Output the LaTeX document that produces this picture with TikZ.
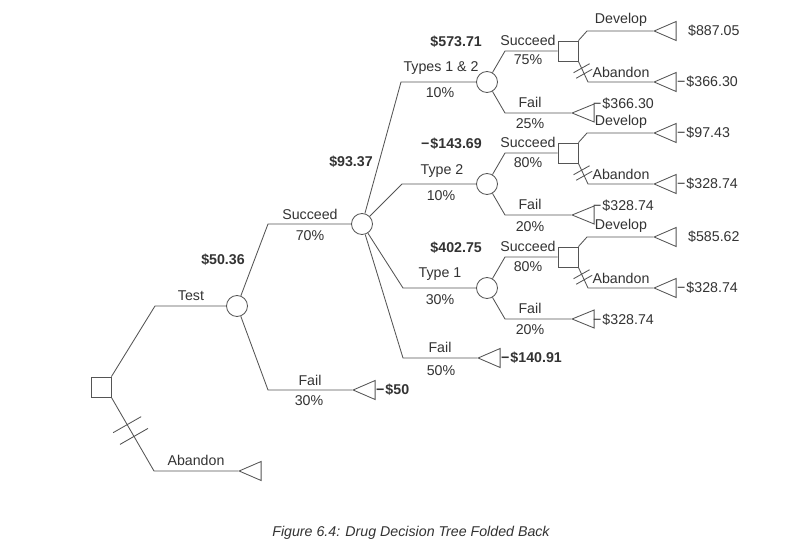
\documentclass[tikz,border=0pt]{standalone}
\usepackage{fontspec}
\setmainfont{Liberation Sans}
\usetikzlibrary{shapes.geometric,calc}
\definecolor{ln}{HTML}{555555}
\definecolor{tx}{HTML}{333333}
\begin{document}
\begin{tikzpicture}[x=1pt,y=-1pt,
  every node/.style={font=\fontsize{14.2}{16}\selectfont, text=tx},
  conn/.style={draw=ln, line width=0.85pt},
  chance/.style={circle, draw=ln, line width=0.85pt, minimum size=21pt, inner sep=0pt},
  decision/.style={rectangle, draw=ln, line width=0.85pt, minimum size=20pt, inner sep=0pt},
  terminal/.style={isosceles triangle, shape border rotate=180, isosceles triangle stretches,
    minimum width=19pt, minimum height=22pt, inner sep=0pt, draw=ln, line width=0.85pt, anchor=apex},
  lbl/.style={inner sep=0pt},
  val/.style={inner sep=0pt, font=\fontsize{14.2}{16}\selectfont\bfseries},
  pay/.style={inner sep=0pt, anchor=west},
  hash/.style={draw=ln, line width=0.85pt},
  captxt/.style={inner sep=0pt, font=\fontsize{14.2}{16}\selectfont\itshape, text=tx}
]
\fill[white] (0,0) rectangle (788,551);
\useasboundingbox (0,0) rectangle (788,551);

% root decision
\node[decision] (root) at (101,387) {};
\coordinate (kt) at (155,306);
\node[chance] (ct) at (237,306) {};
\draw[conn] (root.north east) -- (kt) -- (ct);
\coordinate (ka) at (154,471);
\node[terminal] (ta) at (238,471) {};
\draw[conn] (root.south east) -- (ka) -- (ta.apex);
\path (root.south east) -- (ka) coordinate[pos=0.37] (rh1) coordinate[pos=0.53] (rh2);
\draw[hash] ($(rh1)+(-14,8)$) -- ($(rh1)+(14,-8)$);
\draw[hash] ($(rh2)+(-14,8)$) -- ($(rh2)+(14,-8)$);

% test chance
\coordinate (ks) at (268,224);
\node[chance] (c70) at (362,224) {};
\draw[conn] (ct) -- (ks) -- (c70);
\coordinate (kf) at (268,390);
\node[terminal] (tf) at (352,390) {};
\draw[conn] (ct) -- (kf) -- (tf.apex);

% branches from c70
\coordinate (kba) at (401,82);
\node[chance] (ca) at (487,82) {};
\draw[conn] (c70) -- (kba) -- (ca);
\coordinate (kbb) at (402,184);
\node[chance] (cb) at (487,184) {};
\draw[conn] (c70) -- (kbb) -- (cb);
\coordinate (kbc) at (403,288);
\node[chance] (cc) at (487,288) {};
\draw[conn] (c70) -- (kbc) -- (cc);
\coordinate (kbF) at (403,358);
\node[terminal] (tF) at (477,358) {};
\draw[conn] (c70) -- (kbF) -- (tF.apex);

% subtrees
\foreach \n/\Y in {a/82,b/184,c/288}{
  \coordinate (ks\n) at (505,\Y-31);
  \node[decision] (s\n) at (568,\Y-31) {};
  \draw[conn] (c\n) -- (ks\n) -- (s\n);
  \coordinate (kf\n) at (505,\Y+31);
  \node[terminal, minimum width=18pt] (tf\n) at (571,\Y+31) {};
  \draw[conn] (c\n) -- (kf\n) -- (tf\n.apex);
  \coordinate (kd\n) at (587,\Y-51);
  \node[terminal] (td\n) at (653,\Y-51) {};
  \draw[conn] (s\n.north east) -- (kd\n) -- (td\n.apex);
  \coordinate (kb\n) at (588,\Y);
  \node[terminal] (tb\n) at (653,\Y) {};
  \draw[conn] (s\n.south east) -- (kb\n) -- (tb\n.apex);
  \path (s\n.south east) -- (kb\n) coordinate[pos=0.33] (ha\n) coordinate[pos=0.6] (hb\n);
  \draw[hash] ($(ha\n)+(-8,4.5)$) -- ($(ha\n)+(8,-4.5)$);
  \draw[hash] ($(hb\n)+(-8,4.5)$) -- ($(hb\n)+(8,-4.5)$);
  \node[lbl] at (528,\Y-42) {Succeed};
  \node[lbl] at (621,\Y-62) {Develop};
  \node[lbl] at (621,\Y-10) {Abandon};
  \node[lbl] at (530,\Y+20) {Fail};
  \node[pay] at (677,\Y) {−\kern1pt\$\ifnum\Y=82 366.30\else 328.74\fi};
}

% left labels
\node[lbl] at (191,296) {Test};
\node[val] at (223,260) {\$50.36};
\node[lbl] at (310,214) {Succeed};
\node[lbl] at (310,236) {70\%};
\node[lbl] at (310,380) {Fail};
\node[lbl] at (309,401) {30\%};
\node[lbl] at (196,460) {Abandon};
\node[val, anchor=west] at (376,390) {−\kern1pt\$50};
\node[val] at (351,162) {\$93.37};

% middle labels
\node[val, anchor=east] at (482,42) {\$573.71};
\node[lbl] at (441,68) {Types 1 \& 2};
\node[lbl] at (440,93) {10\%};
\node[val, anchor=east] at (482,144) {−\kern1pt\$143.69};
\node[lbl] at (442,171) {Type 2};
\node[lbl] at (441,196) {10\%};
\node[val, anchor=east] at (482,248) {\$402.75};
\node[lbl] at (440,274) {Type 1};
\node[lbl] at (440,300) {30\%};
\node[lbl] at (440,347) {Fail};
\node[lbl] at (441,371) {50\%};
\node[val, anchor=west] at (501,358) {−\kern1pt\$140.91};

% subtree percentages
\node[lbl] at (528,60) {75\%};
\node[lbl] at (530,124) {25\%};
\node[lbl] at (528,163) {80\%};
\node[lbl] at (530,227) {20\%};
\node[lbl] at (528,267) {80\%};
\node[lbl] at (530,330) {20\%};

% payoffs
\node[pay] at (688,31) {\$887.05};
\node[pay] at (677,133) {−\kern1pt\$97.43};
\node[pay] at (688,237) {\$585.62};
\node[pay] at (593,104) {−\kern1pt\$366.30};
\node[pay] at (593,206) {−\kern1pt\$328.74};
\node[pay] at (593,320) {−\kern1pt\$328.74};

% caption
\node[captxt] at (411,533) {Figure 6.4: Drug Decision Tree Folded Back};
\end{tikzpicture}
\end{document}
